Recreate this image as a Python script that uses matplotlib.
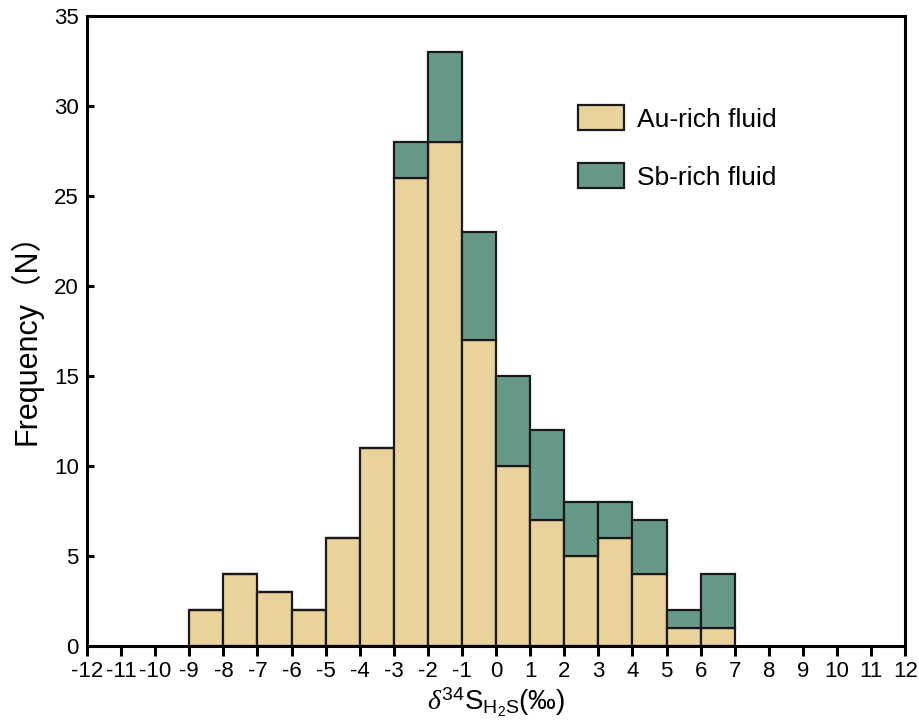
import matplotlib
matplotlib.use("Agg")
import matplotlib.pyplot as plt
import numpy as np

bin_left = [-9, -8, -7, -6, -5, -4, -3, -2, -1, 0, 1, 2, 3, 4, 5, 6]
au_counts = [2, 4, 3, 2, 6, 11, 26, 28, 17, 10, 7, 5, 6, 4, 1, 1]
sb_counts = [0, 0, 0, 0, 0, 0, 2, 5, 6, 5, 5, 3, 2, 3, 1, 3]
xticks = list(range(-12, 13))
yticks = [0, 5, 10, 15, 20, 25, 30, 35]

plt.rcParams['font.family'] = ['Liberation Sans', 'Noto Sans CJK SC', 'DejaVu Sans']
plt.rcParams['mathtext.fontset'] = 'custom'
plt.rcParams['mathtext.rm'] = 'Liberation Sans'
plt.rcParams['mathtext.it'] = 'Liberation Serif:italic'

fig = plt.figure(figsize=(9.19, 7.26), dpi=100)
ax = fig.add_axes([0.0947, 0.110, 0.8903, 0.868])

au_color = '#E9D29B'
sb_color = '#67998A'

ax.bar(bin_left, au_counts, width=1, align='edge', color=au_color,
       edgecolor='#1a1a1a', linewidth=1.6, label='Au-rich fluid')
ax.bar(bin_left, sb_counts, width=1, align='edge', bottom=au_counts,
       color=sb_color, edgecolor='#1a1a1a', linewidth=1.6, label='Sb-rich fluid')

ax.set_xlim(-12, 12)
ax.set_ylim(0, 35)
ax.set_xticks(xticks)
ax.set_xticklabels([str(t) for t in xticks])
ax.set_yticks(yticks)

for s in ax.spines.values():
    s.set_linewidth(2.2)
ax.tick_params(axis='x', direction='out', length=7, width=2.2, labelsize=16, pad=4)
ax.tick_params(axis='y', direction='in', length=5, width=2.2, labelsize=16, pad=6)

ax.set_ylabel('Frequency（N）', fontsize=22, labelpad=8)
ax.set_xlabel(r'$\mathit{\delta}^{34}$S$_{\mathrm{H_2S}}$(‰)', fontsize=20, labelpad=2)

leg = ax.legend(loc='upper left', bbox_to_anchor=(0.600, 0.858), frameon=False,
                borderpad=0, borderaxespad=0,
                fontsize=19, handlelength=1.75, handleheight=1.05,
                labelspacing=1.2, handletextpad=0.5)

fig.savefig('out.png', dpi=100)
